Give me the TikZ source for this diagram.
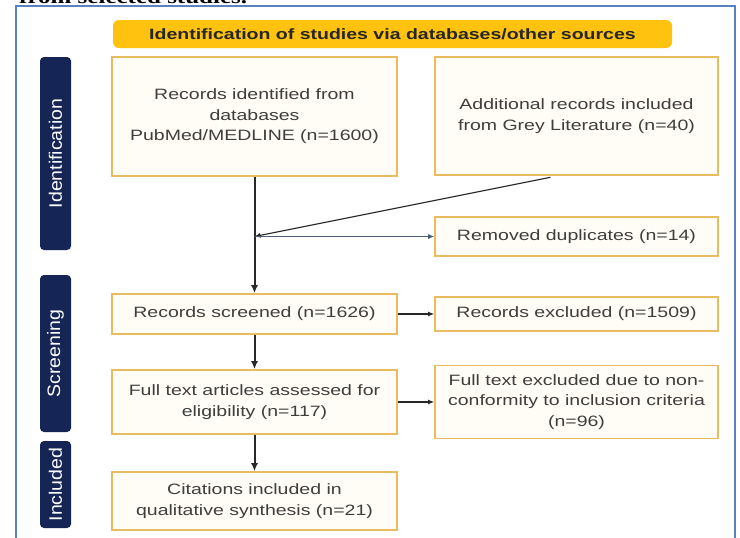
\documentclass[tikz,border=0pt]{standalone}
\usepackage{fontspec}
\setmainfont[FakeStretch=1.3]{Liberation Sans}
\newfontfamily\topfont[FakeStretch=1.25]{Liberation Serif}
\usetikzlibrary{arrows.meta}
\definecolor{boxborder}{RGB}{232,188,95}
\definecolor{boxfill}{RGB}{255,253,246}
\definecolor{titlebar}{RGB}{255,194,14}
\definecolor{navy}{RGB}{21,38,86}
\definecolor{frameblue}{RGB}{88,130,192}
\definecolor{txt}{RGB}{62,62,62}
\definecolor{linegray}{RGB}{40,40,40}
\definecolor{slate}{RGB}{75,95,125}
\begin{document}
\begin{tikzpicture}[x=1pt,y=-1pt,
  flowbox/.style={draw=boxborder, line width=1.6pt, fill=boxfill, text=txt, align=center, inner sep=0pt, font=\fontsize{15}{20.5}\selectfont},
  sidebar/.style={fill=navy, rounded corners=4pt, inner sep=0pt, rotate=90, text=white, font=\fontsize{15}{15}\selectfont},
  mainarrow/.style={draw=linegray, line width=2pt, -{Latex[length=8pt,width=7pt]}},
  sidearrow/.style={draw=linegray, line width=1.1pt, -{Latex[length=6pt,width=5pt]}},
  duparrow/.style={draw=slate, line width=0.9pt, -{Latex[length=6pt,width=5pt]}},
]
\useasboundingbox (0,0) rectangle (740,538);
\fill[white] (0,0) rectangle (740,538);
% cropped caption text at the very top
\begin{scope}
  \clip (0,0) rectangle (740,6);
  \node[anchor=base west, inner sep=0pt, font=\topfont\bfseries\fontsize{20}{20}\selectfont] (toptext) at (19,3.5) {from selected studies.};
\end{scope}
% outer frame
\draw[frameblue, line width=2pt] (16,6) rectangle (735,570);
% title bar
\node[fill=titlebar, rounded corners=6pt, minimum width=559pt, minimum height=28pt, inner sep=0pt,
      font=\bfseries\fontsize{15}{15}\selectfont, text=black!85] (title) at (392.5,34)
      {Identification of studies via databases/other sources};
% side bars
\node[sidebar, minimum width=193pt, minimum height=31pt] (sid) at (55.5,153.5) {\scalebox{1}[1.2]{Identification}};
\node[sidebar, minimum width=157pt, minimum height=31pt] (sscr) at (55.5,353.5) {\scalebox{1}[1.2]{Screening}};
\node[sidebar, minimum width=87pt, minimum height=31pt] (sinc) at (55.5,484.5) {\scalebox{1}[1.2]{Included}};
% boxes
\node[flowbox, minimum width=285pt, minimum height=119pt] (ident) at (254.5,116.5) {Records identified from\\databases\\PubMed/MEDLINE (n=1600)};
\node[flowbox, minimum width=283pt, minimum height=118pt] (grey) at (576.5,116) {Additional records included\\from Grey Literature (n=40)};
\node[flowbox, minimum width=283pt, minimum height=39pt] (dup) at (576.5,236.5) {Removed duplicates (n=14)};
\node[flowbox, minimum width=285pt, minimum height=40pt] (scr) at (254.5,314) {Records screened (n=1626)};
\node[flowbox, minimum width=283pt, minimum height=34pt] (excl) at (576.5,314) {Records excluded (n=1509)};
\node[flowbox, minimum width=285pt, minimum height=64pt] (full) at (254.5,402) {Full text articles assessed for\\eligibility (n=117)};
\node[flowbox, minimum width=283pt, minimum height=73pt] (fexcl) at (576.5,402) {Full text excluded due to non-\\conformity to inclusion criteria\\(n=96)};
\node[flowbox, minimum width=285pt, minimum height=58pt] (incl) at (254.5,501) {Citations included in\\qualitative synthesis (n=21)};
% connectors
\coordinate (junc) at (ident.south |- dup.west);
\draw[mainarrow] (ident.south) -- (scr.north);
\draw[sidearrow] ([xshift=-26pt, yshift=-1.5pt]grey.south) -- (junc);
\draw[duparrow] (junc) -- (dup.west);
\draw[sidearrow] (scr.east) -- (excl.west);
\draw[mainarrow] (scr.south) -- (full.north);
\draw[sidearrow] (full.east) -- (fexcl.west);
\draw[mainarrow] (full.south) -- (incl.north);
\end{tikzpicture}
\end{document}
